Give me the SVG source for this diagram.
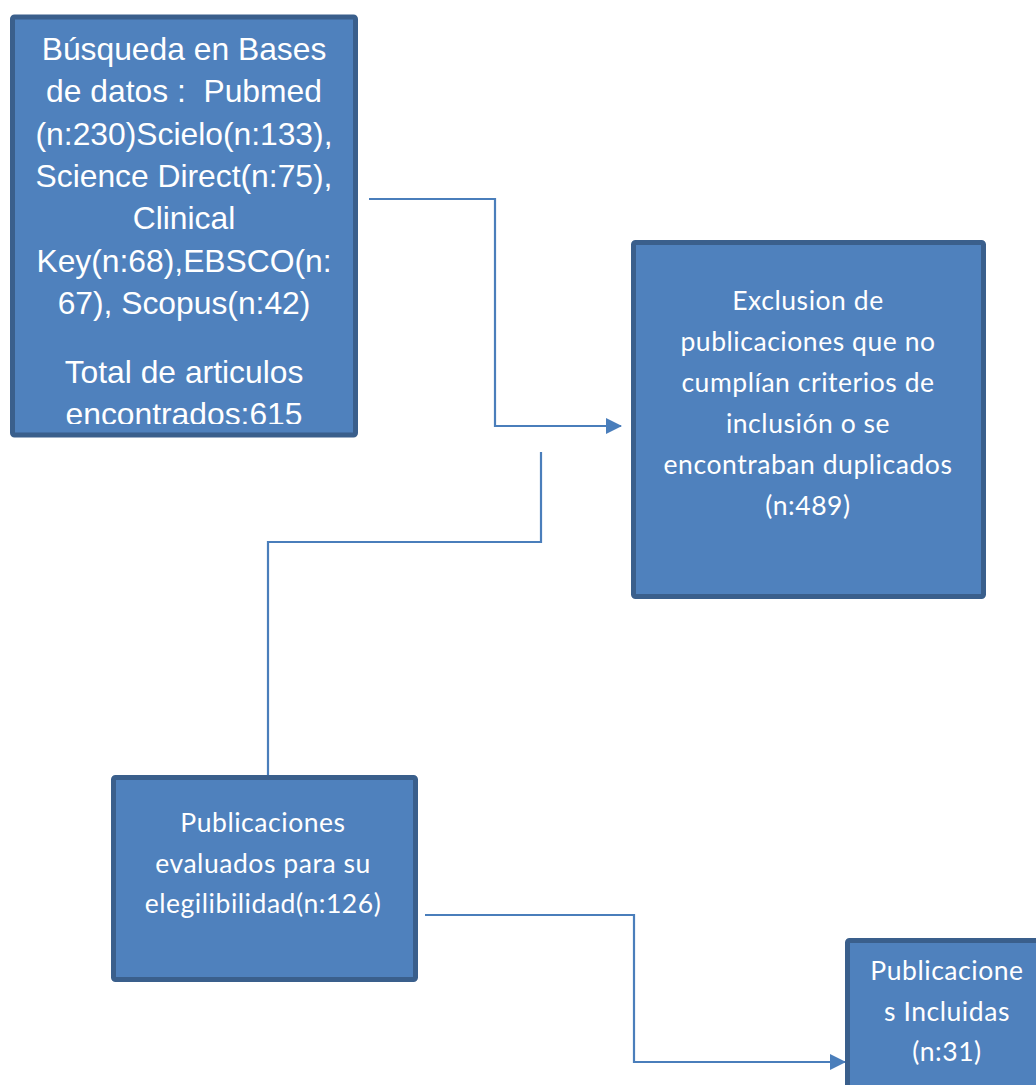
<svg xmlns="http://www.w3.org/2000/svg" width="1036" height="1085" viewBox="0 0 1036 1085">
<style>
.box{fill:#4F81BD;stroke:#3A5F8C;stroke-width:5}
.ta{font-family:"Liberation Sans",Arial,sans-serif;font-size:31.8px;fill:#FFFFFF;text-anchor:middle}
.tc{font-family:Lato,"Open Sans",sans-serif;font-size:26.5px;letter-spacing:0.55px;fill:#FFFFFF;text-anchor:middle}
.conn{fill:none;stroke:#4A7EBB;stroke-width:2.2}
</style>
<defs>
<marker id="arrL" markerWidth="16" markerHeight="16" refX="15" refY="8" orient="auto" markerUnits="userSpaceOnUse" viewBox="0 0 16 16">
<path d="M0,0 L16,8 L0,16 Z" fill="#4A7EBB"/>
</marker>
<clipPath id="clip1"><rect x="15" y="19" width="338" height="405"/></clipPath>
</defs>
<g id="connectors">
<path class="conn" d="M369,199 H495 V426 H621" marker-end="url(#arrL)"/>
<path class="conn" d="M541,452 V542 H268 V776"/>
<path class="conn" d="M425,915 H634 V1062 H845" marker-end="url(#arrL)"/>
</g>
<g id="node-busqueda">
<rect class="box" x="12.5" y="17" width="343" height="418" rx="2"/>
<g clip-path="url(#clip1)">
<text class="ta" x="184" y="60">Búsqueda en Bases</text>
<text class="ta" x="184" y="102" xml:space="preserve">de datos :  Pubmed</text>
<text class="ta" x="184" y="145">(n:230)Scielo(n:133),</text>
<text class="ta" x="184" y="187">Science Direct(n:75),</text>
<text class="ta" x="184" y="229">Clinical</text>
<text class="ta" x="184" y="272">Key(n:68),EBSCO(n:</text>
<text class="ta" x="184" y="314">67), Scopus(n:42)</text>
<text class="ta" x="184" y="383">Total de articulos</text>
<text class="ta" x="184" y="425">encontrados:615</text>
</g>
</g>
<g id="node-exclusion">
<rect class="box" x="633.5" y="242.5" width="350" height="354" rx="2"/>
<text class="tc" x="808" y="310">Exclusion de</text>
<text class="tc" x="808" y="351">publicaciones que no</text>
<text class="tc" x="808" y="392">cumplían criterios de</text>
<text class="tc" x="808" y="433">inclusión o se</text>
<text class="tc" x="808" y="474">encontraban duplicados</text>
<text class="tc" x="808" y="515">(n:489)</text>
</g>
<g id="node-evaluados">
<rect class="box" x="113.5" y="777.5" width="302" height="202" rx="2"/>
<text class="tc" x="263" y="832">Publicaciones</text>
<text class="tc" x="263" y="873">evaluados para su</text>
<text class="tc" x="263" y="913">elegilibilidad(n:126)</text>
</g>
<g id="node-incluidas">
<rect class="box" x="847.5" y="940.5" width="200" height="160" rx="2"/>
<text class="tc" x="947" y="980">Publicacione</text>
<text class="tc" x="947" y="1021">s Incluidas</text>
<text class="tc" x="947" y="1061">(n:31)</text>
</g>
</svg>
